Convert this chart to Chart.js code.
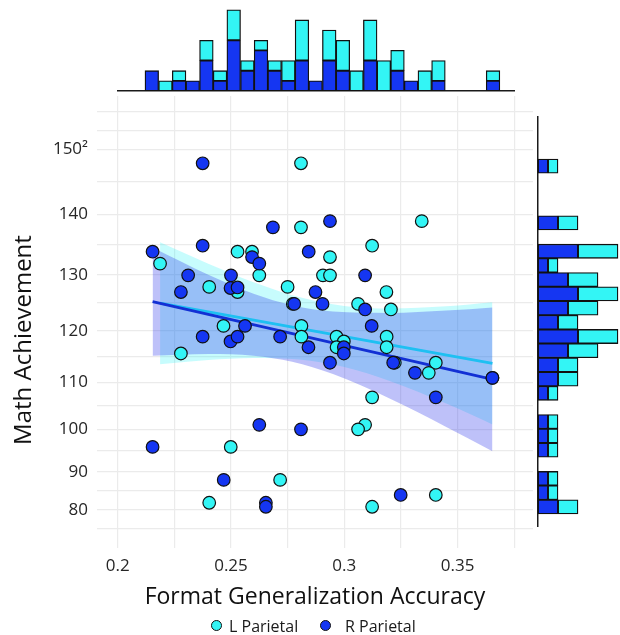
<!DOCTYPE html>
<html>
<head>
<meta charset="utf-8">
<script src="https://cdn.jsdelivr.net/npm/chart.js@4.4.1/dist/chart.umd.min.js"></script>
<style>
html,body{margin:0;padding:0;background:#fff;}
#wrap{position:relative;width:620px;height:635px;overflow:hidden;font-family:'Open Sans',sans-serif;}
#wrap canvas{position:absolute;}
.lg{position:absolute;top:615px;height:22px;line-height:22px;font-size:16px;color:#1a1a1a;white-space:nowrap;}
.dot{position:absolute;width:9px;height:9px;border-radius:50%;border:1.3px solid #111;}
</style>
</head>
<body>
<div id="wrap">
  <canvas id="main" width="620" height="635" style="left:0;top:0"></canvas>
  <canvas id="topHist" width="398" height="93" style="left:117px;top:0"></canvas>
  <canvas id="rightHist" width="84" height="411" style="left:536px;top:116px"></canvas>
  <div class="dot" style="left:211px;top:620px;background:#33f5f5"></div>
  <div class="lg" style="left:229px">L Parietal</div>
  <div class="dot" style="left:320px;top:620px;background:#1536f2"></div>
  <div class="lg" style="left:345px">R Parietal</div>
</div>
<script>
// ---------- data ----------
const seriesNames = ['L Parietal', 'R Parietal'];

// R Parietal (blue) points
const rX = [0.2375,0.2685,0.2937,0.2154,0.2375,0.2843,0.2593,0.2625,0.2311,0.2500,0.3092,0.2279,0.2498,0.2529,0.2873,0.2779,0.2904,0.3092,0.2562,0.3121,0.2375,0.2498,0.2529,0.2717,0.2842,0.2998,0.2998,0.2937,0.3216,0.3312,0.3654,0.3404,0.2625,0.2809,0.2154,0.2468,0.3249,0.2654,0.2654];
const rY = [147.9,137.9,138.9,133.9,134.9,133.9,133.0,131.9,129.9,129.9,129.9,127.0,127.7,127.8,127.0,124.9,124.9,123.9,120.9,120.9,118.9,118.0,118.9,118.9,116.9,116.9,115.7,113.9,113.9,111.9,110.9,106.9,101.0,100.0,96.0,88.0,84.1,82.0,80.9];

// L Parietal (cyan) points
const lX = [0.2809,0.2809,0.3342,0.2529,0.2593,0.3123,0.2937,0.2187,0.2625,0.2906,0.2937,0.2404,0.2529,0.2750,0.3186,0.3061,0.2773,0.3206,0.2467,0.2811,0.2811,0.2966,0.2998,0.3187,0.2966,0.3187,0.2279,0.3404,0.3223,0.3373,0.3654,0.3123,0.3092,0.3061,0.2499,0.2717,0.3404,0.2404,0.3123];
const lY = [147.9,137.9,138.9,133.9,133.9,134.9,133.0,131.9,129.9,129.9,129.9,127.9,127.0,127.9,127.0,124.9,124.9,123.9,120.9,120.9,118.9,118.9,118.0,118.9,116.9,116.9,115.7,113.9,113.9,111.9,110.9,106.9,101.0,100.0,96.0,88.0,84.1,82.0,80.9];

// fitted lines and confidence bands
const rLineX = [0.2154, 0.3654];
const rLineY = [125.29, 110.61];
const lLineX = [0.2187, 0.3654];
const lLineY = [125.02, 113.79];
const rBandX = [0.2154, 0.24, 0.26, 0.277, 0.295, 0.32, 0.345, 0.3654];
const rBandUpper = [134.58, 129.99, 126.70, 124.66, 123.53, 123.28, 123.71, 124.27];
const rBandLower = [115.25, 115.60, 115.27, 114.08, 111.65, 106.66, 100.54, 94.99];
const lBandX = [0.2187, 0.24, 0.26, 0.28, 0.30, 0.32, 0.345, 0.3654];
const lBandUpper = [135.47, 131.88, 128.72, 126.11, 124.52, 124.07, 124.48, 125.20];
const lBandLower = [113.61, 114.42, 114.82, 114.53, 113.06, 110.28, 105.59, 101.10];

// top marginal histogram (x)
const topBinCenters = [0.21504,0.22107,0.22709,0.23311,0.23913,0.24515,0.25118,0.25720,0.26322,0.26924,0.27526,0.28129,0.28731,0.29333,0.29935,0.30537,0.31140,0.31742,0.32344,0.32946,0.33548,0.34151,0.34753,0.35355,0.35957,0.36559];
const topHistR = [2,0,1,1,3,1,5,2,4,2,1,3,1,3,2,0,3,0,2,1,0,1,0,0,0,1];
const topHistL = [0,1,1,0,2,1,3,1,1,1,2,4,0,3,3,2,4,3,2,0,2,2,0,0,0,1];

// right marginal histogram (y)
const rightBinCenters = [147.48,145.31,143.12,140.88,138.62,136.31,133.97,131.58,129.15,126.67,124.14,121.56,118.93,116.23,113.47,110.65,107.75,104.76,101.69,98.52,95.26,91.87,88.35,84.69,80.86];
const rightHistR = [1,0,0,0,2,0,4,1,3,4,3,2,4,3,2,2,1,0,1,1,1,0,1,1,2];
const rightHistL = [1,0,0,0,2,0,4,1,3,4,3,2,4,3,2,2,1,0,1,1,1,0,1,1,2];

// axis ticks
const xTickValues = [0.2,0.225,0.25,0.275,0.3,0.325,0.35,0.375];
const xTickLabels = ['0.2','','0.25','','0.3','','0.35',''];
const yTickValues = [74.7,80,85.15,90,95.13,100,105.12,110,115.11,120,125.1,130,135.09,140,145.09,150,152.7,155.5];
const yTickLabels = ['','80','','90','','100','','110','','120','','130','','140','','150²','',''];

// ---------- styling ----------
const CYAN = '#33f5f5';
const BLUE = '#1536f2';
const EDGE = '#111111';
const GRID = '#ebebeb';
Chart.defaults.font.family = "'Open Sans', sans-serif";
Chart.defaults.animation = false;

// square (power 2) scale, like the reference's transformed y axis
class SquareScale extends Chart.LinearScale {
  getPixelForValue(value) {
    if (value === null || value === undefined || isNaN(value)) return NaN;
    const a = this.min * this.min, b = this.max * this.max;
    return this.getPixelForDecimal((value * value - a) / (b - a));
  }
  getValueForPixel(pixel) {
    const a = this.min * this.min, b = this.max * this.max;
    return Math.sqrt(a + this.getDecimalForPixel(pixel) * (b - a));
  }
}
SquareScale.id = 'square';
SquareScale.defaults = Chart.LinearScale.defaults;
Chart.register(SquareScale);

const pts = (xs, ys) => xs.map((x, i) => ({x: x, y: ys[i]}));

const yTitle = {
  id: 'yTitle',
  afterDraw(chart) {
    const ctx = chart.ctx;
    ctx.save();
    ctx.translate(24, 340);
    ctx.rotate(-Math.PI / 2);
    ctx.font = "24px 'Open Sans', sans-serif";
    ctx.fillStyle = '#111';
    ctx.textAlign = 'center';
    ctx.textBaseline = 'middle';
    ctx.fillText('Math Achievement', 0, 0);
    ctx.restore();
  }
};

// ---------- main scatter ----------
new Chart(document.getElementById('main'), {
  type: 'scatter',
  data: {
    datasets: [
      {label: seriesNames[1], type: 'scatter', data: pts(rX, rY), order: 0,
       pointRadius: 6.3, pointBackgroundColor: BLUE, pointBorderColor: EDGE, pointBorderWidth: 1.2},
      {label: seriesNames[0], type: 'scatter', data: pts(lX, lY), order: 1,
       pointRadius: 6.3, pointBackgroundColor: CYAN, pointBorderColor: EDGE, pointBorderWidth: 1.2},
      {label: 'R fit', type: 'line', data: pts(rLineX, rLineY), order: 2,
       borderColor: '#1230d4', borderWidth: 2.8, pointRadius: 0, fill: false},
      {label: 'L fit', type: 'line', data: pts(lLineX, lLineY), order: 3,
       borderColor: '#1ec0f2', borderWidth: 2.8, pointRadius: 0, fill: false},
      {label: 'R upper', type: 'line', data: pts(rBandX, rBandUpper), order: 4,
       borderColor: 'rgba(0,0,0,0)', borderWidth: 0, pointRadius: 0, fill: false, cubicInterpolationMode: 'monotone'},
      {label: 'R lower', type: 'line', data: pts(rBandX, rBandLower), order: 5,
       borderColor: 'rgba(0,0,0,0)', borderWidth: 0, pointRadius: 0, fill: '-1',
       backgroundColor: 'rgba(40,50,235,0.30)', cubicInterpolationMode: 'monotone'},
      {label: 'L upper', type: 'line', data: pts(lBandX, lBandUpper), order: 6,
       borderColor: 'rgba(0,0,0,0)', borderWidth: 0, pointRadius: 0, fill: false, cubicInterpolationMode: 'monotone'},
      {label: 'L lower', type: 'line', data: pts(lBandX, lBandLower), order: 7,
       borderColor: 'rgba(0,0,0,0)', borderWidth: 0, pointRadius: 0, fill: '-1',
       backgroundColor: 'rgba(0,240,245,0.22)', cubicInterpolationMode: 'monotone'}
    ]
  },
  options: {
    responsive: false,
    events: [],
    layout: {padding: {top: 96, right: 87, left: 0, bottom: 0}},
    plugins: {legend: {display: false}, tooltip: {enabled: false}},
    scales: {
      x: {
        type: 'linear', min: 0.19087, max: 0.3833,
        afterFit: s => { s.height = 87; },
        afterBuildTicks: s => { s.ticks = xTickValues.map(v => ({value: v})); },
        grid: {color: GRID, lineWidth: 1.2, drawTicks: false},
        border: {display: false},
        ticks: {autoSkip: false, maxRotation: 0, padding: 8, color: '#262626', font: {size: 17},
                callback: (v, i) => xTickLabels[i]},
        title: {display: true, text: 'Format Generalization Accuracy', color: '#111',
                font: {size: 23}, padding: {top: 0, bottom: 24}}
      },
      y: {
        type: 'square', min: 68.59, max: 157.73,
        afterFit: s => { s.width = 97; },
        afterBuildTicks: s => { s.ticks = yTickValues.map(v => ({value: v})); },
        grid: {color: GRID, lineWidth: 1.2, drawTicks: false},
        border: {display: false},
        ticks: {autoSkip: false, padding: 9, color: '#262626', font: {size: 17},
                callback: (v, i) => yTickLabels[i]}
      }
    }
  },
  plugins: [yTitle]
});

// ---------- top marginal histogram ----------
const nz = v => (v === 0 ? null : v);
new Chart(document.getElementById('topHist'), {
  type: 'bar',
  data: {
    datasets: [
      {label: seriesNames[1], data: topBinCenters.map((c, i) => ({x: c, y: nz(topHistR[i])})),
       backgroundColor: BLUE, borderColor: EDGE, borderWidth: 1.3, borderSkipped: false,
       barPercentage: 1, categoryPercentage: 1},
      {label: seriesNames[0], data: topBinCenters.map((c, i) => ({x: c, y: nz(topHistL[i])})),
       backgroundColor: CYAN, borderColor: EDGE, borderWidth: 1.3, borderSkipped: false,
       barPercentage: 1, categoryPercentage: 1}
    ]
  },
  options: {
    responsive: false,
    events: [],
    layout: {padding: {top: 0, right: 0, left: 0, bottom: 2}},
    plugins: {legend: {display: false}, tooltip: {enabled: false}},
    scales: {
      x: {
        type: 'linear', min: 0.19969, max: 0.37528, stacked: true, offset: false,
        afterFit: s => { s.height = 0; },
        afterBuildTicks: s => { s.ticks = [{value: 0.3}]; },
        grid: {display: false, drawTicks: false, offset: false},
        border: {display: true, color: '#1a1a1a', width: 1.5},
        ticks: {display: false}
      },
      y: {type: 'linear', min: 0, max: 8.966, stacked: true, display: false}
    }
  }
});

// ---------- right marginal histogram ----------
new Chart(document.getElementById('rightHist'), {
  type: 'bar',
  data: {
    datasets: [
      {label: seriesNames[1], data: rightBinCenters.map((c, i) => ({y: c, x: nz(rightHistR[i])})),
       backgroundColor: BLUE, borderColor: EDGE, borderWidth: 1.3, borderSkipped: false,
       barPercentage: 1, categoryPercentage: 1},
      {label: seriesNames[0], data: rightBinCenters.map((c, i) => ({y: c, x: nz(rightHistL[i])})),
       backgroundColor: CYAN, borderColor: EDGE, borderWidth: 1.3, borderSkipped: false,
       barPercentage: 1, categoryPercentage: 1}
    ]
  },
  options: {
    indexAxis: 'y',
    responsive: false,
    events: [],
    layout: {padding: {top: 0, right: 0, left: 2, bottom: 0}},
    plugins: {legend: {display: false}, tooltip: {enabled: false}},
    scales: {
      y: {
        type: 'square', min: 75.11, max: 154.87, stacked: true, offset: false,
        afterFit: s => { s.width = 0; },
        afterBuildTicks: s => { s.ticks = [{value: 120}]; },
        grid: {display: false, drawTicks: false, offset: false},
        border: {display: true, color: '#1a1a1a', width: 1.5},
        ticks: {display: false}
      },
      x: {type: 'linear', min: 0, max: 8.2, stacked: true, display: false}
    }
  }
});
</script>
</body>
</html>
